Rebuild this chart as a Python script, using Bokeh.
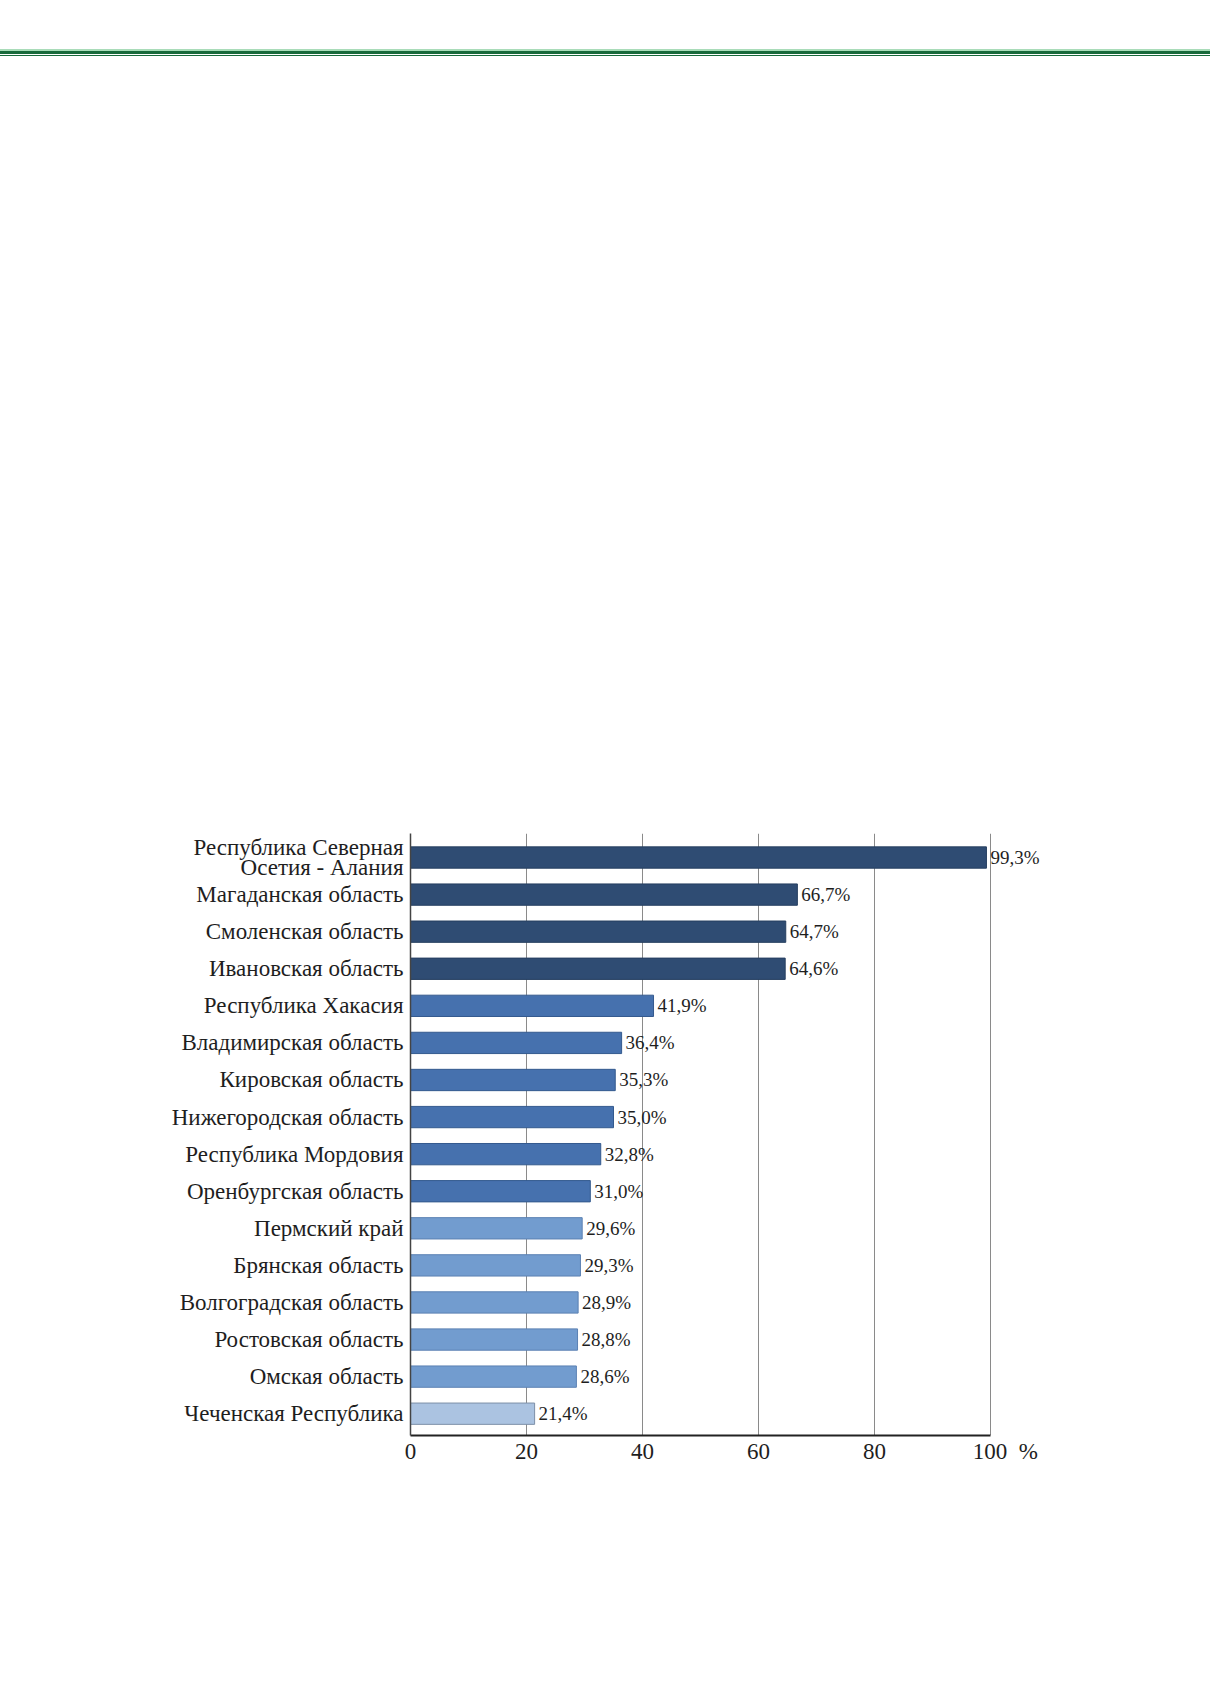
from bokeh.plotting import figure
from bokeh.models import (ColumnDataSource, Range1d, FixedTicker, LabelSet, Div)
from bokeh.layouts import column
from bokeh.embed import file_html
from bokeh.resources import INLINE

# ---- data ----
regions = [
    "Республика Северная\nОсетия - Алания",
    "Магаданская область",
    "Смоленская область",
    "Ивановская область",
    "Республика Хакасия",
    "Владимирская область",
    "Кировская область",
    "Нижегородская область",
    "Республика Мордовия",
    "Оренбургская область",
    "Пермский край",
    "Брянская область",
    "Волгоградская область",
    "Ростовская область",
    "Омская область",
    "Чеченская Республика",
]
shares = [99.3, 66.7, 64.7, 64.6, 41.9, 36.4, 35.3, 35.0, 32.8, 31.0,
          29.6, 29.3, 28.9, 28.8, 28.6, 21.4]
x_ticks = [0, 20, 40, 60, 80, 100]
x_tick_labels = ["0", "20", "40", "60", "80", "100"]
unit_label = "%"

# ---- styles ----
DARK, MID, LIGHT, PALE = "#2f4c73", "#4671ae", "#729ccf", "#abc3e1"
bar_colors = [DARK] * 4 + [MID] * 6 + [LIGHT] * 5 + [PALE]
edge_colors = ["#263f60"] * 4 + ["#345a8e"] * 6 + ["#5a80b3"] * 5 + ["#7d8fa8"]
FONT = "Liberation Serif"
TXT = "#1e1e1e"

pos = list(range(len(regions)))
src = ColumnDataSource(dict(
    y=pos, v=shares,
    txt=[("%.1f" % s).replace(".", ",") + "%" for s in shares],
    fc=bar_colors, lc=edge_colors,
))

W = 1210

# ---- header rule ----
hdr = Div(width=W, height=68, styles={"margin": "0", "padding": "0"},
          text=(
              '<div style="width:%dpx;height:68px;position:relative;margin:0;padding:0">'
              '<div style="position:absolute;left:0;top:49px;width:100%%;height:2px;background:#a9dcb9"></div>'
              '<div style="position:absolute;left:0;top:51px;width:100%%;height:3px;background:#17693a"></div>'
              '<div style="position:absolute;left:0;top:55px;width:100%%;height:1.4px;background:#17693a"></div>'
              '</div>' % W))

# ---- main chart ----
n = len(regions)
p = figure(width=W, height=1613, output_backend="svg", toolbar_location=None,
           x_range=Range1d(0, 110),
           y_range=Range1d(n - 1 + 0.588, -0.648),
           min_border_left=410, min_border_right=162,
           min_border_top=765, min_border_bottom=246,
           outline_line_color=None)

p.hbar(y="y", right="v", left=0, height=0.575, source=src,
       fill_color="fc", line_color="lc", line_width=1)

# x axis
xa = p.xaxis[0]
xa.bounds = (x_ticks[0], x_ticks[-1])
xa.ticker = FixedTicker(ticks=x_ticks)
over = {t: l for t, l in zip(x_ticks, x_tick_labels)}
# unit sign follows the last tick label; leading spaces keep "100" centred on its tick
over[x_ticks[-1]] = "\u2003\u2009\u200a" + x_tick_labels[-1] + "\u2002" + unit_label
xa.major_label_overrides = over
xa.major_tick_in = 0
xa.major_tick_out = 0
xa.minor_tick_line_color = None
xa.axis_line_color = "#222222"
xa.axis_line_width = 2
xa.major_label_standoff = 3
xa.major_label_text_font = FONT
xa.major_label_text_font_size = "23px"
xa.major_label_text_color = TXT

# y axis
ya = p.yaxis[0]
ya.ticker = FixedTicker(ticks=pos)
ya.major_label_overrides = {i: r for i, r in zip(pos, regions)}
ya.major_tick_in = 0
ya.major_tick_out = 0
ya.minor_tick_line_color = None
ya.axis_line_color = "#444444"
ya.axis_line_width = 1.5
ya.major_label_standoff = 7
ya.major_label_text_font = FONT
ya.major_label_text_font_size = "23px"
ya.major_label_text_color = TXT
ya.major_label_text_line_height = 0.8

p.ygrid.visible = False
p.xgrid.grid_line_color = "#8a8a8a"
p.xgrid.grid_line_width = 1
p.xgrid.ticker = FixedTicker(ticks=x_ticks[1:])

labels = LabelSet(x="v", y="y", text="txt", source=src, x_offset=4,
                  text_baseline="middle", text_align="left",
                  text_font=FONT, text_font_size="19px", text_color=TXT)
p.add_layout(labels)

layout = column(hdr, p, spacing=0)
open("out.html", "w").write(file_html(layout, INLINE))
